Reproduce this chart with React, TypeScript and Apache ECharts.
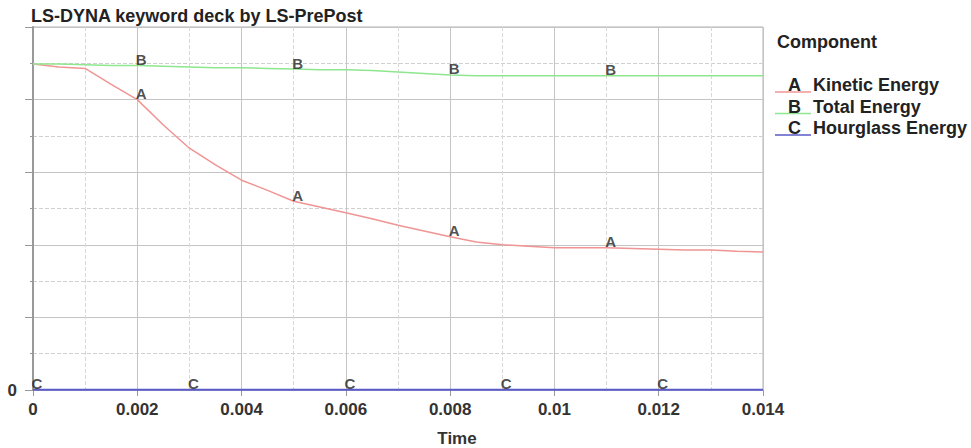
import React, { useEffect, useRef } from "react";
import * as echarts from "echarts";

const times = [0, 0.0005, 0.001, 0.0015, 0.002, 0.0025, 0.003, 0.0035, 0.004, 0.0045, 0.005, 0.0055, 0.006, 0.0065, 0.007, 0.0075, 0.008, 0.0085, 0.009, 0.0095, 0.01, 0.0105, 0.011, 0.0115, 0.012, 0.0125, 0.013, 0.0135, 0.014];
const kinetic = [4.49, 4.45, 4.43, 4.21, 4.0, 3.65, 3.33, 3.1, 2.89, 2.75, 2.6, 2.52, 2.44, 2.36, 2.27, 2.19, 2.11, 2.04, 2.0, 1.98, 1.96, 1.96, 1.96, 1.95, 1.94, 1.93, 1.93, 1.91, 1.9];
const total = [4.49, 4.49, 4.48, 4.47, 4.47, 4.46, 4.45, 4.44, 4.44, 4.43, 4.42, 4.41, 4.41, 4.4, 4.38, 4.36, 4.34, 4.33, 4.33, 4.33, 4.33, 4.33, 4.33, 4.33, 4.33, 4.33, 4.33, 4.33, 4.33];
const hourglass = [0.004, 0.004, 0.004, 0.004, 0.004, 0.004, 0.004, 0.004, 0.004, 0.004, 0.004, 0.004, 0.004, 0.004, 0.004, 0.004, 0.004, 0.004, 0.004, 0.004, 0.004, 0.004, 0.004, 0.004, 0.004, 0.004, 0.004, 0.004, 0.004];

const seriesNames = ["Kinetic Energy", "Total Energy", "Hourglass Energy"];
const seriesLetters = ["A", "B", "C"];
const seriesColors = ["#f09494", "#8ee68e", "#5a5ac8"];
const labelTimes = [
  [0.002, 0.005, 0.008, 0.011],
  [0.002, 0.005, 0.008, 0.011],
  [0, 0.003, 0.006, 0.009, 0.012],
];
const xTicks = ["0", "0.002", "0.004", "0.006", "0.008", "0.01", "0.012", "0.014"];
const legendTitle = "Component";
const xName = "Time";
const chartTitle = "LS-DYNA keyword deck by LS-PrePost";

const FONT = "Liberation Sans, Arial, sans-serif";

export default function App() {
  const ref = useRef<HTMLDivElement>(null);
  useEffect(() => {
    if (!ref.current) return;
    const chart = echarts.init(ref.current, undefined, { renderer: "svg" });
    const values = [kinetic, total, hourglass];
    const lineSeries = values.map((vals, i) => ({
      name: seriesNames[i],
      type: "line",
      data: times.map((t, j) => [t, vals[j]]),
      showSymbol: false,
      symbol: "none",
      lineStyle: { color: seriesColors[i], width: i === 2 ? 2 : 1.5 },
      itemStyle: { color: seriesColors[i] },
      z: 3,
    }));
    const labelSeries = values.map((vals, i) => ({
      name: seriesLetters[i] + "-labels",
      type: "scatter",
      data: labelTimes[i].map((t) => {
        const j = times.findIndex((x) => Math.abs(x - t) < 1e-9);
        return [t, vals[j]];
      }),
      symbolSize: 1,
      itemStyle: { color: "rgba(0,0,0,0)" },
      label: {
        show: true,
        formatter: () => seriesLetters[i],
        position: "top",
        distance: 0,
        offset: [4, 2],
        fontFamily: FONT,
        fontWeight: "bold",
        fontSize: 15,
        color: "#222",
      },
      z: 5,
    }));

    const legendYs = [85, 106.5, 128];
    const textStyle = (text: string, size: number) => ({
      text,
      fontFamily: FONT,
      fontWeight: "bold",
      fontSize: size,
      fill: "#222",
      verticalAlign: "middle",
    });
    const graphics: any[] = [
      { type: "text", x: 777, y: 42, style: textStyle(legendTitle, 18) },
      { type: "text", x: 457, y: 438, style: { ...textStyle(xName, 17), align: "center", fill: "#333" } },
      { type: "text", x: 31, y: 16, style: textStyle(chartTitle, 18) },
    ];
    seriesNames.forEach((name, i) => {
      graphics.push({
        type: "line",
        shape: { x1: 775, y1: legendYs[i] + 7, x2: 811, y2: legendYs[i] + 7 },
        style: { stroke: seriesColors[i], lineWidth: 1.5 },
      });
      graphics.push({ type: "text", x: 788, y: legendYs[i], style: textStyle(seriesLetters[i], 18) });
      graphics.push({ type: "text", x: 813, y: legendYs[i], style: textStyle(name, 18) });
    });

    chart.setOption({
      animation: false,
      backgroundColor: "#fff",
      grid: { left: 33, right: 208, top: 27, bottom: 58, show: true, borderColor: "#b0b0b0", borderWidth: 1 },
      xAxis: {
        type: "value",
        min: 0,
        max: 0.014,
        interval: 0.002,
        axisLine: { show: false },
        axisTick: { show: true, length: 6, inside: false, lineStyle: { color: "#999" } },
        axisLabel: {
          fontFamily: FONT,
          fontWeight: "bold",
          fontSize: 17,
          color: "#333",
          margin: 11,
          formatter: (v: number) => xTicks[Math.round(v / 0.002)] ?? "",
        },
        splitLine: { show: true, lineStyle: { color: "#c4c4c4", width: 1 } },
        minorTick: { show: false, splitNumber: 2 },
        minorSplitLine: { show: true, lineStyle: { color: "#d8d8d8", type: "dashed", width: 1 } },
      },
      yAxis: {
        type: "value",
        min: 0,
        max: 5,
        interval: 1,
        axisLine: { show: true, lineStyle: { color: "#999", width: 2 } },
        axisTick: { show: true, length: 8, lineStyle: { color: "#999" } },
        axisLabel: {
          fontFamily: FONT,
          fontWeight: "bold",
          fontSize: 17,
          color: "#333",
          margin: 16,
          formatter: (v: number) => (v === 0 ? "0" : ""),
        },
        splitLine: { show: true, lineStyle: { color: "#c4c4c4", width: 1 } },
        minorTick: { show: true, splitNumber: 2, length: 3, lineStyle: { color: "#999" } },
        minorSplitLine: { show: true, lineStyle: { color: "#d0d0d0", type: "dashed", width: 1 } },
      },
      graphic: graphics,
      series: [...lineSeries, ...labelSeries],
    });
    return () => chart.dispose();
  }, []);
  return <div ref={ref} style={{ width: 971, height: 448, position: "absolute", left: 0, top: 0 }} />;
}
